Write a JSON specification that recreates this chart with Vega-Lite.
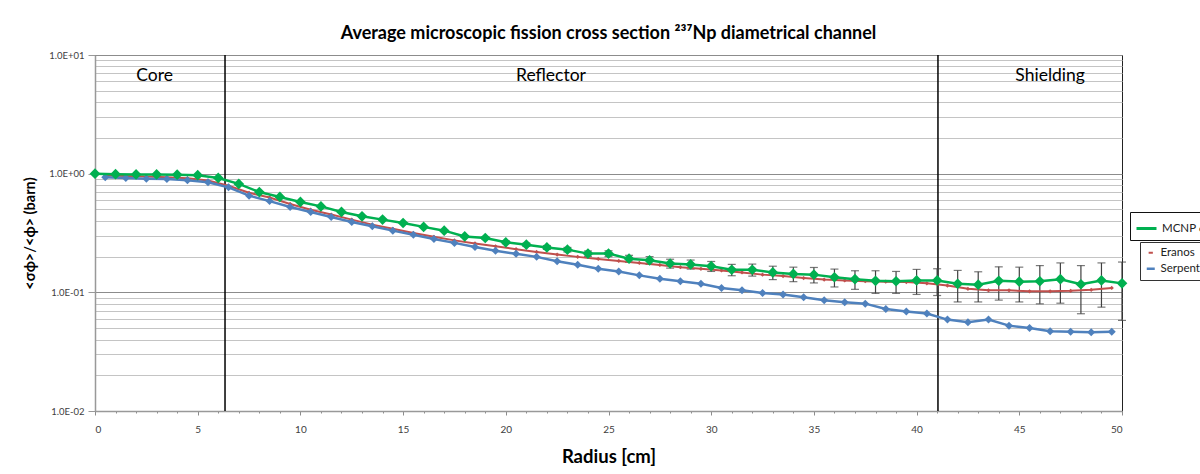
{
  "$schema": "https://vega.github.io/schema/vega-lite/v6.json",
  "autosize": {"type": "none"},
  "width": 1027,
  "height": 356,
  "padding": {"left": 95, "top": 55, "right": 78, "bottom": 63},
  "background": "white",
  "title": {"text": "Average microscopic fission cross section ²³⁷Np diametrical channel", "font": "Lato", "fontSize": 18, "fontWeight": "bold", "color": "black", "anchor": "middle", "offset": 7},
  "config": {
    "view": {"stroke": "#222", "strokeWidth": 1},
    "font": "Lato",
    "axis": {"labelOverlap": false},
    "axisX": {
      "labelFont": "Lato", "labelFontSize": 10, "labelColor": "#404040", "labelPadding": 9,
      "titleFont": "Lato", "titleFontSize": 18.5, "titleFontWeight": "bold", "titleColor": "black", "titlePadding": 13,
      "grid": false, "domainColor": "#999999", "domainWidth": 1.5, "tickColor": "#8c8c8c"
    },
    "axisY": {
      "labelFont": "Lato", "labelFontSize": 9.5, "labelColor": "#404040", "labelPadding": 4,
      "titleFont": "Lato", "titleFontSize": 14.5, "titleFontWeight": "bold", "titleColor": "black", "titlePadding": 11,
      "grid": true, "gridWidth": 1.2, "domainColor": "#999999", "domainWidth": 1.5, "tickColor": "#999999"
    }
  },
  "datasets": {
    "bounds": [{"r": 6.33}, {"r": 41.04}],
    "regions": [
      {"r": 2.9, "v": 6.7, "label": "Core"},
      {"r": 22.2, "v": 6.7, "label": "Reflector"},
      {"r": 46.5, "v": 6.7, "label": "Shielding"}
    ],
    "mcnp": [
      {"r": 0, "v": 1.0, "err": 0.002},
      {"r": 1, "v": 0.99, "err": 0.002},
      {"r": 2, "v": 0.985, "err": 0.002},
      {"r": 3, "v": 0.985, "err": 0.002},
      {"r": 4, "v": 0.98, "err": 0.002},
      {"r": 5, "v": 0.97, "err": 0.002},
      {"r": 6, "v": 0.92, "err": 0.002},
      {"r": 7, "v": 0.82, "err": 0.002},
      {"r": 8, "v": 0.70, "err": 0.002},
      {"r": 9, "v": 0.637, "err": 0.002},
      {"r": 10, "v": 0.578, "err": 0.002},
      {"r": 11, "v": 0.53, "err": 0.002},
      {"r": 12, "v": 0.476, "err": 0.003},
      {"r": 13, "v": 0.437, "err": 0.003},
      {"r": 14, "v": 0.41, "err": 0.003},
      {"r": 15, "v": 0.384, "err": 0.003},
      {"r": 16, "v": 0.356, "err": 0.004},
      {"r": 17, "v": 0.331, "err": 0.005},
      {"r": 18, "v": 0.296, "err": 0.005},
      {"r": 19, "v": 0.287, "err": 0.006},
      {"r": 20, "v": 0.264, "err": 0.007},
      {"r": 21, "v": 0.252, "err": 0.008},
      {"r": 22, "v": 0.239, "err": 0.009},
      {"r": 23, "v": 0.229, "err": 0.010},
      {"r": 24, "v": 0.212, "err": 0.011},
      {"r": 25, "v": 0.212, "err": 0.012},
      {"r": 26, "v": 0.192, "err": 0.013},
      {"r": 27, "v": 0.186, "err": 0.014},
      {"r": 28, "v": 0.175, "err": 0.015},
      {"r": 29, "v": 0.172, "err": 0.015},
      {"r": 30, "v": 0.166, "err": 0.016},
      {"r": 31, "v": 0.155, "err": 0.017},
      {"r": 32, "v": 0.155, "err": 0.018},
      {"r": 33, "v": 0.147, "err": 0.019},
      {"r": 34, "v": 0.143, "err": 0.020},
      {"r": 35, "v": 0.141, "err": 0.021},
      {"r": 36, "v": 0.134, "err": 0.023},
      {"r": 37, "v": 0.129, "err": 0.023},
      {"r": 38, "v": 0.125, "err": 0.027},
      {"r": 39, "v": 0.124, "err": 0.026},
      {"r": 40, "v": 0.126, "err": 0.030},
      {"r": 41, "v": 0.126, "err": 0.032},
      {"r": 42, "v": 0.118, "err": 0.035},
      {"r": 43, "v": 0.116, "err": 0.033},
      {"r": 44, "v": 0.125, "err": 0.039},
      {"r": 45, "v": 0.123, "err": 0.040},
      {"r": 46, "v": 0.124, "err": 0.044},
      {"r": 47, "v": 0.129, "err": 0.048},
      {"r": 48, "v": 0.117, "err": 0.051},
      {"r": 49, "v": 0.126, "err": 0.051},
      {"r": 50, "v": 0.119, "err": 0.061}
    ],
    "other": [
      {"series": "Eranos", "r": 0.5, "v": 0.965},
      {"series": "Eranos", "r": 1.5, "v": 0.955},
      {"series": "Eranos", "r": 2.5, "v": 0.945},
      {"series": "Eranos", "r": 3.5, "v": 0.935},
      {"series": "Eranos", "r": 4.5, "v": 0.915},
      {"series": "Eranos", "r": 5.5, "v": 0.875},
      {"series": "Eranos", "r": 6.5, "v": 0.79},
      {"series": "Eranos", "r": 7.5, "v": 0.69},
      {"series": "Eranos", "r": 8.5, "v": 0.63},
      {"series": "Eranos", "r": 9.5, "v": 0.556},
      {"series": "Eranos", "r": 10.5, "v": 0.497},
      {"series": "Eranos", "r": 11.5, "v": 0.452},
      {"series": "Eranos", "r": 12.5, "v": 0.41},
      {"series": "Eranos", "r": 13.5, "v": 0.372},
      {"series": "Eranos", "r": 14.5, "v": 0.343},
      {"series": "Eranos", "r": 15.5, "v": 0.316},
      {"series": "Eranos", "r": 16.5, "v": 0.294},
      {"series": "Eranos", "r": 17.5, "v": 0.274},
      {"series": "Eranos", "r": 18.5, "v": 0.258},
      {"series": "Eranos", "r": 19.5, "v": 0.244},
      {"series": "Eranos", "r": 20.5, "v": 0.231},
      {"series": "Eranos", "r": 21.5, "v": 0.219},
      {"series": "Eranos", "r": 22.5, "v": 0.208},
      {"series": "Eranos", "r": 23.5, "v": 0.199},
      {"series": "Eranos", "r": 24.5, "v": 0.191},
      {"series": "Eranos", "r": 25.5, "v": 0.184},
      {"series": "Eranos", "r": 26.5, "v": 0.177},
      {"series": "Eranos", "r": 27.5, "v": 0.170},
      {"series": "Eranos", "r": 28.5, "v": 0.163},
      {"series": "Eranos", "r": 29.5, "v": 0.158},
      {"series": "Eranos", "r": 30.5, "v": 0.153},
      {"series": "Eranos", "r": 31.5, "v": 0.147},
      {"series": "Eranos", "r": 32.5, "v": 0.141},
      {"series": "Eranos", "r": 33.5, "v": 0.137},
      {"series": "Eranos", "r": 34.5, "v": 0.132},
      {"series": "Eranos", "r": 35.5, "v": 0.128},
      {"series": "Eranos", "r": 36.5, "v": 0.126},
      {"series": "Eranos", "r": 37.5, "v": 0.124},
      {"series": "Eranos", "r": 38.5, "v": 0.123},
      {"series": "Eranos", "r": 39.5, "v": 0.122},
      {"series": "Eranos", "r": 40.5, "v": 0.119},
      {"series": "Eranos", "r": 41.5, "v": 0.114},
      {"series": "Eranos", "r": 42.5, "v": 0.107},
      {"series": "Eranos", "r": 43.5, "v": 0.104},
      {"series": "Eranos", "r": 44.5, "v": 0.104},
      {"series": "Eranos", "r": 45.5, "v": 0.102},
      {"series": "Eranos", "r": 46.5, "v": 0.102},
      {"series": "Eranos", "r": 47.5, "v": 0.103},
      {"series": "Eranos", "r": 48.5, "v": 0.105},
      {"series": "Eranos", "r": 49.5, "v": 0.109},
      {"series": "Serpent", "r": 0.5, "v": 0.934},
      {"series": "Serpent", "r": 1.5, "v": 0.92},
      {"series": "Serpent", "r": 2.5, "v": 0.908},
      {"series": "Serpent", "r": 3.5, "v": 0.902},
      {"series": "Serpent", "r": 4.5, "v": 0.882},
      {"series": "Serpent", "r": 5.5, "v": 0.845},
      {"series": "Serpent", "r": 6.5, "v": 0.767},
      {"series": "Serpent", "r": 7.5, "v": 0.653},
      {"series": "Serpent", "r": 8.5, "v": 0.587},
      {"series": "Serpent", "r": 9.5, "v": 0.524},
      {"series": "Serpent", "r": 10.5, "v": 0.476},
      {"series": "Serpent", "r": 11.5, "v": 0.432},
      {"series": "Serpent", "r": 12.5, "v": 0.392},
      {"series": "Serpent", "r": 13.5, "v": 0.36},
      {"series": "Serpent", "r": 14.5, "v": 0.331},
      {"series": "Serpent", "r": 15.5, "v": 0.306},
      {"series": "Serpent", "r": 16.5, "v": 0.282},
      {"series": "Serpent", "r": 17.5, "v": 0.261},
      {"series": "Serpent", "r": 18.5, "v": 0.241},
      {"series": "Serpent", "r": 19.5, "v": 0.224},
      {"series": "Serpent", "r": 20.5, "v": 0.211},
      {"series": "Serpent", "r": 21.5, "v": 0.199},
      {"series": "Serpent", "r": 22.5, "v": 0.183},
      {"series": "Serpent", "r": 23.5, "v": 0.171},
      {"series": "Serpent", "r": 24.5, "v": 0.158},
      {"series": "Serpent", "r": 25.5, "v": 0.150},
      {"series": "Serpent", "r": 26.5, "v": 0.139},
      {"series": "Serpent", "r": 27.5, "v": 0.130},
      {"series": "Serpent", "r": 28.5, "v": 0.124},
      {"series": "Serpent", "r": 29.5, "v": 0.118},
      {"series": "Serpent", "r": 30.5, "v": 0.109},
      {"series": "Serpent", "r": 31.5, "v": 0.104},
      {"series": "Serpent", "r": 32.5, "v": 0.0989},
      {"series": "Serpent", "r": 33.5, "v": 0.0957},
      {"series": "Serpent", "r": 34.5, "v": 0.091},
      {"series": "Serpent", "r": 35.5, "v": 0.0857},
      {"series": "Serpent", "r": 36.5, "v": 0.0824},
      {"series": "Serpent", "r": 37.5, "v": 0.0803},
      {"series": "Serpent", "r": 38.5, "v": 0.0724},
      {"series": "Serpent", "r": 39.5, "v": 0.0688},
      {"series": "Serpent", "r": 40.5, "v": 0.0662},
      {"series": "Serpent", "r": 41.5, "v": 0.0589},
      {"series": "Serpent", "r": 42.5, "v": 0.0559},
      {"series": "Serpent", "r": 43.5, "v": 0.0589},
      {"series": "Serpent", "r": 44.5, "v": 0.0524},
      {"series": "Serpent", "r": 45.5, "v": 0.0501},
      {"series": "Serpent", "r": 46.5, "v": 0.0469},
      {"series": "Serpent", "r": 47.5, "v": 0.0465},
      {"series": "Serpent", "r": 48.5, "v": 0.046},
      {"series": "Serpent", "r": 49.5, "v": 0.0465}
    ]
  },
  "encoding": {
    "x": {
      "field": "r", "type": "quantitative", "title": "Radius [cm]",
      "scale": {"domain": [0, 50], "nice": false, "zero": false},
      "axis": {
        "values": [0,1,2,3,4,5,6,7,8,9,10,11,12,13,14,15,16,17,18,19,20,21,22,23,24,25,26,27,28,29,30,31,32,33,34,35,36,37,38,39,40,41,42,43,44,45,46,47,48,49,50],
        "labelOverlap": false,
        "labelOpacity": {"condition": {"test": "datum.value % 5 == 0", "value": 1}, "value": 0},
        "tickSize": {"condition": {"test": "datum.value % 5 == 0", "value": 4}, "value": 2}
      }
    }
  },
  "layer": [
    {
      "data": {"name": "bounds"},
      "mark": {"type": "rule", "color": "black", "strokeWidth": 1.5}
    },
    {
      "data": {"name": "regions"},
      "mark": {"type": "text", "font": "Lato", "fontSize": 17.5, "color": "black", "baseline": "middle", "align": "center"},
      "encoding": {
        "y": {
          "field": "v", "type": "quantitative", "title": "<σϕ>/<ϕ> (barn)",
          "scale": {"type": "log", "domain": [0.01, 10], "nice": false},
          "axis": {
            "values": [0.01,0.02,0.03,0.04,0.05,0.06,0.07,0.08,0.09,0.1,0.2,0.3,0.4,0.5,0.6,0.7,0.8,0.9,1,2,3,4,5,6,7,8,9,10],
            "labelExpr": "datum.value == 10 ? '1.0E+01' : datum.value == 1 ? '1.0E+00' : datum.value == 0.1 ? '1.0E-01' : datum.value == 0.01 ? '1.0E-02' : ''",
            "labelOverlap": false,
            "gridColor": {"condition": {"test": "indexof([0.01,0.1,1,10], datum.value) >= 0", "value": "#8c8c8c"}, "value": "#c4c4c4"},
            "tickSize": {"condition": {"test": "indexof([0.01,0.1,1,10], datum.value) >= 0", "value": 7}, "value": 0}
          }
        },
        "text": {"field": "label"}
      }
    },
    {
      "data": {"name": "mcnp"},
      "mark": {"type": "errorbar", "color": "#404040", "thickness": 1.2, "ticks": {"size": 8, "color": "#404040"}},
      "encoding": {
        "y": {"field": "v", "type": "quantitative", "title": "<σϕ>/<ϕ> (barn)"},
        "yError": {"field": "err"}
      }
    },
    {
      "data": {"name": "other"},
      "mark": {"type": "line"},
      "encoding": {
        "y": {"field": "v", "type": "quantitative", "title": "<σϕ>/<ϕ> (barn)"},
        "color": {
          "field": "series", "type": "nominal",
          "scale": {"domain": ["Eranos", "Serpent"], "range": ["#C0504D", "#4F81BD"]},
          "legend": {"orient": "none", "legendX": 1045, "legendY": 187, "title": null, "strokeColor": "#333333", "fillColor": "white", "padding": 5, "symbolType": "stroke", "symbolStrokeWidth": 2, "symbolSize": 400, "labelFont": "Lato", "labelFontSize": 11.5, "labelColor": "#222222", "rowPadding": 3}
        },
        "strokeWidth": {"field": "series", "type": "nominal", "scale": {"domain": ["Eranos", "Serpent"], "range": [2, 2.5]}, "legend": null}
      }
    },
    {
      "data": {"name": "other"},
      "mark": {"type": "point", "shape": "diamond", "filled": true, "opacity": 1},
      "encoding": {
        "y": {"field": "v", "type": "quantitative", "title": "<σϕ>/<ϕ> (barn)"},
        "fill": {"field": "series", "type": "nominal", "scale": {"domain": ["Eranos", "Serpent"], "range": ["#C0504D", "#4F81BD"]}, "legend": null},
        "size": {"field": "series", "type": "nominal", "scale": {"domain": ["Eranos", "Serpent"], "range": [18, 64]}, "legend": null}
      }
    },
    {
      "data": {"name": "mcnp"},
      "mark": {"type": "line", "strokeWidth": 2.5},
      "encoding": {
        "y": {"field": "v", "type": "quantitative", "title": "<σϕ>/<ϕ> (barn)"},
        "stroke": {
          "datum": "MCNP 6.1",
          "scale": {"domain": ["MCNP 6.1"], "range": ["#00B050"]},
          "legend": {"orient": "none", "legendX": 1035, "legendY": 157, "title": null, "strokeColor": "#111111", "fillColor": "white", "padding": 5, "symbolType": "stroke", "symbolStrokeWidth": 3, "symbolSize": 400, "labelFont": "Lato", "labelFontSize": 11.5, "labelColor": "#222222"}
        }
      }
    },
    {
      "data": {"name": "mcnp"},
      "mark": {"type": "point", "shape": "diamond", "filled": true, "opacity": 1, "color": "#00B050", "size": 115},
      "encoding": {
        "y": {"field": "v", "type": "quantitative", "title": "<σϕ>/<ϕ> (barn)"}
      }
    }
  ]
}
